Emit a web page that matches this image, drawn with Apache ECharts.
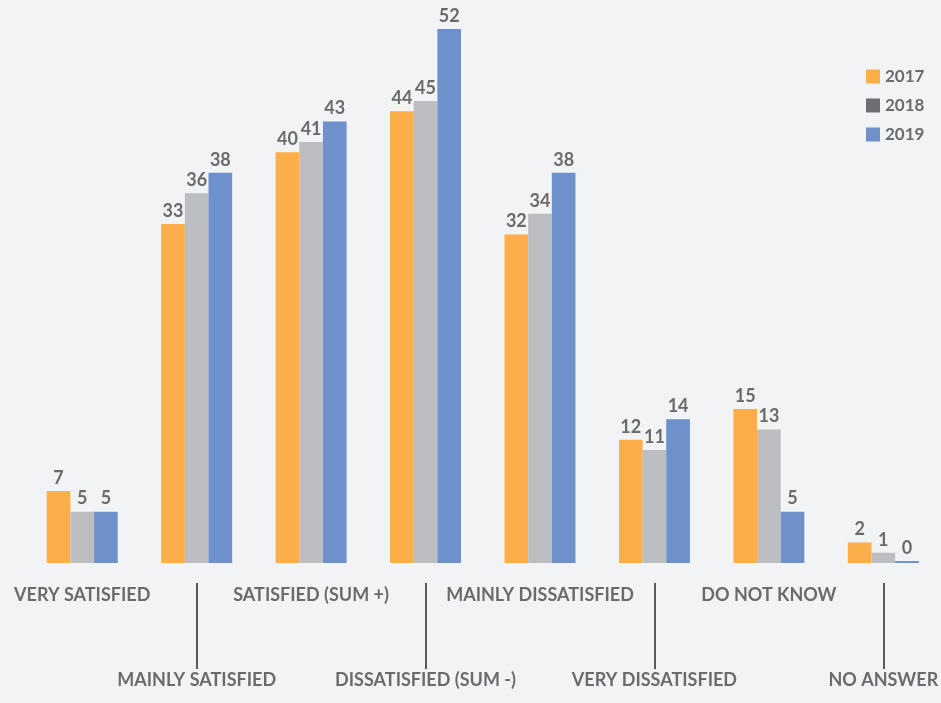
<!DOCTYPE html>
<html>
<head>
<meta charset="utf-8">
<script src="https://cdn.jsdelivr.net/npm/echarts@6/dist/echarts.min.js"></script>
<style>
  html, body { margin: 0; padding: 0; background: #f2f3f5; }
  #chart { width: 941px; height: 703px; }
</style>
</head>
<body>
<div id="chart"></div>
<script>
// Satisfaction survey answers per year (percent)
const categories = [
  'VERY SATISFIED', 'MAINLY SATISFIED', 'SATISFIED (SUM +)', 'DISSATISFIED (SUM -)',
  'MAINLY DISSATISFIED', 'VERY DISSATISFIED', 'DO NOT KNOW', 'NO ANSWER'
];
const years = ['2017', '2018', '2019'];
const values2017 = [7, 33, 40, 44, 32, 12, 15, 2];
const values2018 = [5, 36, 41, 45, 34, 11, 13, 1];
const values2019 = [5, 38, 43, 52, 38, 14, 5, 0];

const barColors = ['#fbae4a', '#bcbdc0', '#6e90cb'];
const legendColors = ['#fbae4a', '#6d6e71', '#6e90cb'];
const textColor = '#6b6b6b';
const fontFamily = 'Lato, "Noto Sans", sans-serif';

const chart = echarts.init(document.getElementById('chart'));

function barSeries(name, data, idx) {
  return {
    name: name,
    type: 'bar',
    data: data,
    barGap: '0%',
    barCategoryGap: '38%',
    barMinHeight: idx === 2 ? 2 : 0,
    itemStyle: { color: barColors[idx] },
    label: {
      show: true,
      position: 'top',
      distance: 4,
      color: textColor,
      fontFamily: fontFamily,
      fontWeight: 'bold',
      fontSize: 18
    },
    emphasis: { disabled: true }
  };
}

chart.setOption({
  backgroundColor: '#f2f3f5',
  animation: false,
  textStyle: { fontFamily: fontFamily },
  legend: {
    orient: 'vertical',
    left: 861,
    top: 63,
    itemWidth: 14,
    itemHeight: 14,
    itemGap: 12,
    icon: 'rect',
    textStyle: { color: textColor, fontSize: 17, fontWeight: 'bold', fontFamily: fontFamily },
    data: years.map((y, i) => ({ name: y, itemStyle: { color: legendColors[i] } }))
  },
  grid: { left: 25, width: 919, top: 29, bottom: 140, containLabel: false },
  xAxis: [
    {
      type: 'category',
      data: categories,
      axisLine: { show: false },
      axisTick: { show: false },
      axisLabel: {
        interval: 0,
        margin: 23,
        color: textColor,
        fontFamily: fontFamily,
        fontWeight: 'bold',
        fontSize: 18,
        formatter: (v, i) => (i % 2 ? '{low|' + v + '}' : '{high|' + v + '}'),
        rich: {
          high: { color: textColor, fontFamily: fontFamily, fontWeight: 'bold', fontSize: 18 },
          low: { color: textColor, fontFamily: fontFamily, fontWeight: 'bold', fontSize: 18, padding: [85, 0, 0, 0] }
        }
      }
    },
    {
      // divider lines above the lower row of labels
      type: 'category',
      data: categories,
      position: 'bottom',
      offset: 20,
      axisLine: { show: false },
      axisLabel: { show: false },
      axisTick: {
        show: true,
        alignWithLabel: true,
        interval: (i) => i % 2 === 1,
        length: 86,
        lineStyle: { color: '#5a5a5a', width: 2 }
      }
    }
  ],
  yAxis: {
    type: 'value',
    min: 0,
    max: 52,
    show: false,
    splitLine: { show: false }
  },
  series: [
    barSeries(years[0], values2017, 0),
    barSeries(years[1], values2018, 1),
    barSeries(years[2], values2019, 2)
  ]
});
</script>
</body>
</html>
